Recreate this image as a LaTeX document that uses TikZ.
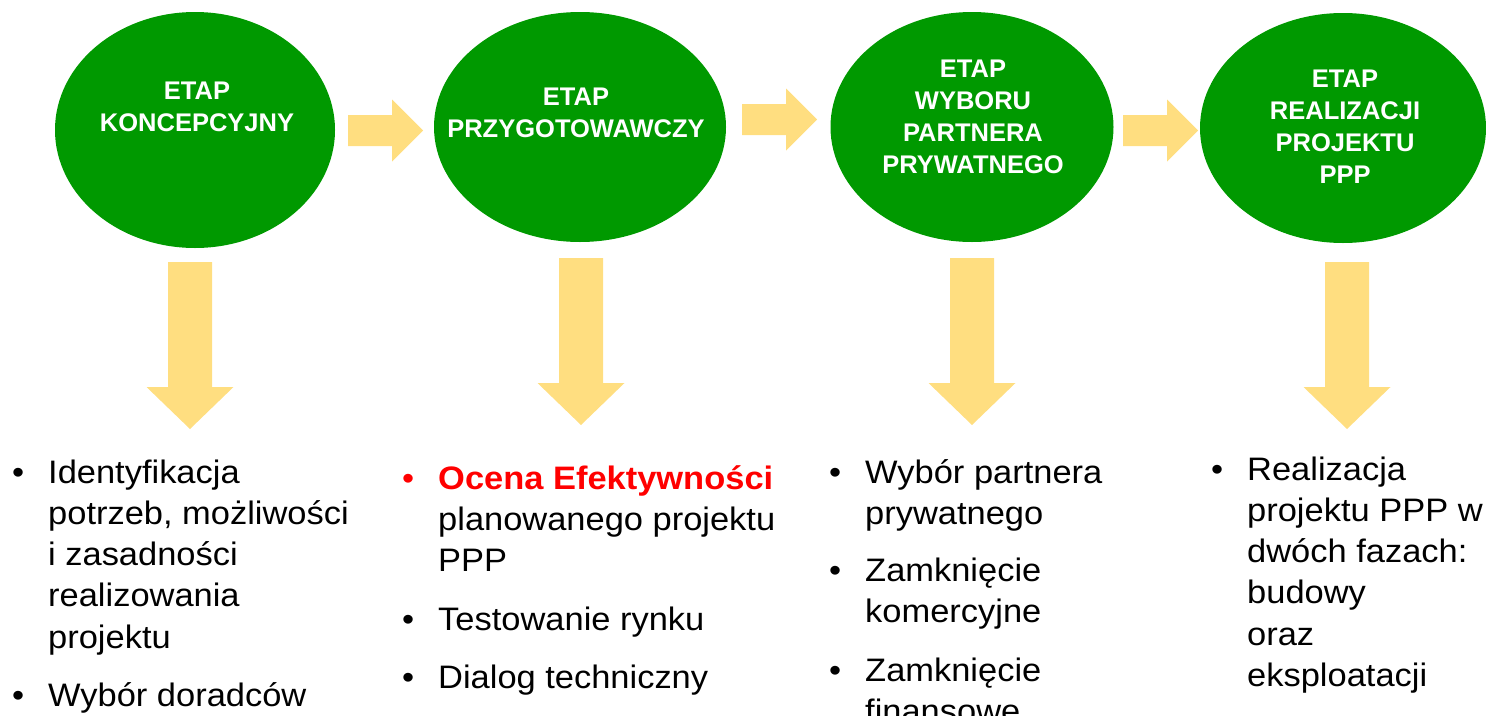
\documentclass[tikz,border=0pt]{standalone}
\usepackage{fontspec}
\setmainfont{Liberation Sans}
\newfontfamily\listfont{Liberation Sans}[FakeStretch=1.06]
\usetikzlibrary{shapes.geometric}

\definecolor{stagegreen}{RGB}{0,153,0}
\definecolor{arrowyellow}{RGB}{255,222,128}
\definecolor{pointred}{RGB}{255,0,0}

\tikzset{
    stage/.style = {ellipse, fill=stagegreen, inner sep=0pt},
    stagetext/.style = {text=white, align=center, inner sep=0pt,
        font=\fontsize{25.5}{32}\selectfont\bfseries},
    % anchored on the baseline of the last line
    listtext/.style = {align=left, anchor=base west, inner sep=0pt,
        font=\listfont\fontsize{32.5}{41.3}\selectfont},
    bulletmark/.style = {anchor=base west, inner sep=0pt,
        font=\listfont\fontsize{32.5}{41.3}\selectfont},
    fwdarrow/.pic = {\fill[arrowyellow] (0,-15.5) -- (44,-15.5) -- (44,-31) -- (75,0)
        -- (44,31) -- (44,15.5) -- (0,15.5) -- cycle;},
    downarrow/.pic = {\fill[arrowyellow] (-22,0) -- (22,0) -- (22,125) -- (43.5,125)
        -- (0,167) -- (-43.5,125) -- (-22,125) -- cycle;}
}

\begin{document}
\begin{tikzpicture}[x=1pt, y=-1pt]
    \useasboundingbox (0,0) rectangle (1486,715);
    \clip (0,0) rectangle (1486,715);

    % stages
    \node[stage, minimum width=280pt, minimum height=236pt] (e1) at (195,130) {};
    \node[stage, minimum width=292pt, minimum height=230pt] (e2) at (580,127) {};
    \node[stage, minimum width=283pt, minimum height=230pt] (e3) at (972,127) {};
    \node[stage, minimum width=286pt, minimum height=230pt] (e4) at (1343,128) {};

    \node[stagetext] (t1) at (197,107) {ETAP\\KONCEPCYJNY};
    \node[stagetext] (t2) at (576,112.5) {ETAP\\PRZYGOTOWAWCZY};
    \node[stagetext] (t3) at (973,117) {ETAP\\WYBORU\\PARTNERA\\PRYWATNEGO};
    \node[stagetext] (t4) at (1345,127) {ETAP\\REALIZACJI\\PROJEKTU\\PPP};

    % arrows
    \pic at (348,130.5) {fwdarrow};
    \pic at (742,119.5) {fwdarrow};
    \pic at (1123,130.5) {fwdarrow};

    \pic at (190,262) {downarrow};
    \pic at (581,258) {downarrow};
    \pic at (972,258) {downarrow};
    \pic at (1347,262) {downarrow};

    % lists
    \node[bulletmark] (b1a) at (12,483) {•};
    \node[listtext] (l1a) at (48,648.2) {Identyfikacja\\potrzeb, możliwości\\i zasadności\\realizowania\\projektu};
    \node[bulletmark] (b1b) at (12,706) {•};
    \node[listtext] (l1b) at (48,706) {Wybór doradców};

    \node[bulletmark, text=pointred] (b2a) at (402,489) {•};
    \node[listtext] (l2a) at (438,571.6) {\textcolor{pointred}{\bfseries Ocena Efektywności}\\planowanego projektu\\PPP};
    \node[bulletmark] (b2b) at (402,630) {•};
    \node[listtext] (l2b) at (438,630) {Testowanie rynku};
    \node[bulletmark] (b2c) at (402,688) {•};
    \node[listtext] (l2c) at (438,688) {Dialog techniczny};

    \node[bulletmark] (b3a) at (829,483) {•};
    \node[listtext] (l3a) at (865,524.3) {Wybór partnera\\prywatnego};
    \node[bulletmark] (b3b) at (829,581) {•};
    \node[listtext] (l3b) at (865,622.3) {Zamknięcie\\komercyjne};
    \node[bulletmark] (b3c) at (829,681) {•};
    \node[listtext] (l3c) at (865,722.3) {Zamknięcie\\finansowe};

    \node[bulletmark] (b4a) at (1211,480) {•};
    \node[listtext] (l4a) at (1247,686.5) {Realizacja\\projektu PPP w\\dwóch fazach:\\budowy\\oraz\\eksploatacji};
\end{tikzpicture}
\end{document}
